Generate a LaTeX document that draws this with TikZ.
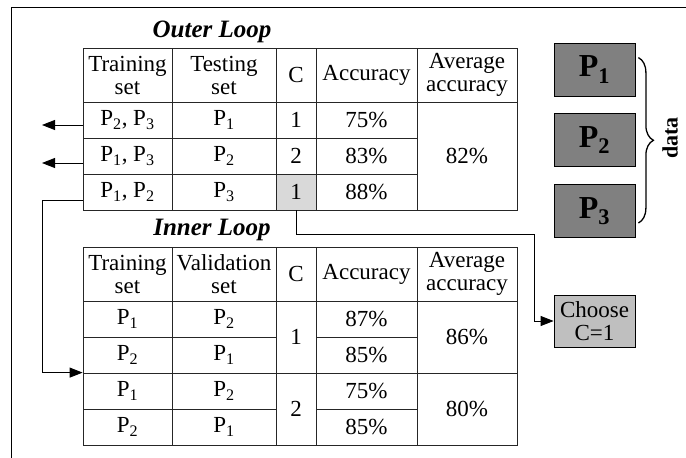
\documentclass[tikz,border=0pt]{standalone}
\usepackage{fontspec}
\setmainfont{Liberation Serif}
\usetikzlibrary{arrows.meta, positioning, decorations.pathreplacing}
\tikzstyle{cell} = [rectangle, draw=black!85, line width=0.8pt, inner sep=0pt, minimum height=36pt, text centered, align=center]
\tikzstyle{head} = [cell, minimum height=54pt]
\tikzstyle{trainw} = [minimum width=89pt]
\tikzstyle{testw} = [minimum width=104pt]
\tikzstyle{cw} = [minimum width=40pt]
\tikzstyle{accw} = [minimum width=101pt]
\tikzstyle{avgw} = [minimum width=100pt]
\tikzstyle{part} = [rectangle, draw=black, line width=0.8pt, fill=black!50, minimum width=81pt, minimum height=53pt, font=\fontsize{32}{34}\selectfont\bfseries]
\tikzstyle{choice} = [rectangle, draw=black, line width=0.8pt, fill=black!25, minimum width=81pt, minimum height=52pt, inner sep=0pt, align=center]
\tikzstyle{title} = [font=\fontsize{25}{27}\selectfont\bfseries\itshape]
\tikzstyle{line} = [draw, line width=0.9pt, -{Triangle[length=13pt, width=10pt]}]

\begin{document}
\begin{tikzpicture}[x=1pt, y=-1pt, font=\fontsize{23}{23}\selectfont]
\useasboundingbox (0,0) rectangle (686,458);

% Frame
\draw [line width=0.8pt] (11,458) -- (11,7) -- (686,7);

% Outer loop
\node (outer) [title] at (212,32) {Outer Loop};
\node (otrain) [head, trainw] at (127.5,75) {Training\\set};
\node (otest) [head, testw] at (224,75) {Testing\\set};
\node (oc) [head, cw] at (296,75) {C};
\node (oacc) [head, accw] at (366.5,75) {Accuracy};
\node (oavg) [head, avgw] at (467,75) {Average\\accuracy};

\node (o1train) [cell, trainw] at (127.5,120) {P\textsubscript{2}, P\textsubscript{3}};
\node (o1test) [cell, testw] at (224,120) {P\textsubscript{1}};
\node (o1c) [cell, cw] at (296,120) {1};
\node (o1acc) [cell, accw] at (366.5,120) {75\%};

\node (o2train) [cell, trainw] at (127.5,156) {P\textsubscript{1}, P\textsubscript{3}};
\node (o2test) [cell, testw] at (224,156) {P\textsubscript{2}};
\node (o2c) [cell, cw] at (296,156) {2};
\node (o2acc) [cell, accw] at (366.5,156) {83\%};

\node (o3train) [cell, trainw] at (127.5,192) {P\textsubscript{1}, P\textsubscript{2}};
\node (o3test) [cell, testw] at (224,192) {P\textsubscript{3}};
\node (o3c) [cell, cw, fill=black!15] at (296,192) {1};
\node (o3acc) [cell, accw] at (366.5,192) {88\%};

\node (oavgval) [cell, avgw, minimum height=108pt] at (467,156) {82\%};

% Inner loop
\node (inner) [title] at (212,230) {Inner Loop};
\node (itrain) [head, trainw] at (127.5,274) {Training\\set};
\node (ival) [head, testw] at (224,274) {Validation\\set};
\node (ic) [head, cw] at (296,274) {C};
\node (iacc) [head, accw] at (366.5,274) {Accuracy};
\node (iavg) [head, avgw] at (467,274) {Average\\accuracy};

\node (i1train) [cell, trainw] at (127.5,319) {P\textsubscript{1}};
\node (i1val) [cell, testw] at (224,319) {P\textsubscript{2}};
\node (i1acc) [cell, accw] at (366.5,319) {87\%};
\node (i2train) [cell, trainw] at (127.5,355) {P\textsubscript{2}};
\node (i2val) [cell, testw] at (224,355) {P\textsubscript{1}};
\node (i2acc) [cell, accw] at (366.5,355) {85\%};
\node (i3train) [cell, trainw] at (127.5,391) {P\textsubscript{1}};
\node (i3val) [cell, testw] at (224,391) {P\textsubscript{2}};
\node (i3acc) [cell, accw] at (366.5,391) {75\%};
\node (i4train) [cell, trainw] at (127.5,427) {P\textsubscript{2}};
\node (i4val) [cell, testw] at (224,427) {P\textsubscript{1}};
\node (i4acc) [cell, accw] at (366.5,427) {85\%};

\node (ic1) [cell, cw, minimum height=72pt] at (296,337) {1};
\node (ic2) [cell, cw, minimum height=72pt] at (296,409) {2};
\node (iavg1) [cell, avgw, minimum height=72pt] at (467,337) {86\%};
\node (iavg2) [cell, avgw, minimum height=72pt] at (467,409) {80\%};

% Data parts
\node (p1) [part] at (594.5,69.5) {P\textsubscript{1}};
\node (p2) [part, below=17pt of p1] {P\textsubscript{2}};
\node (p3) [part, below=17pt of p2] {P\textsubscript{3}};
\draw [decorate, decoration={brace, amplitude=15pt}, line width=1.3pt]
  ([xshift=3pt, yshift=-15pt]p1.north east) -- ([xshift=3pt, yshift=15pt]p3.south east);
\node (data) [rotate=90, inner sep=1pt, font=\fontsize{22}{24}\selectfont\bfseries] at (670,138) {data};

\node (choose) [choice] at (594.5,321) {Choose\\C=1};

% Connections
\coordinate (back1) at (42,125);
\coordinate (back2) at (42,163);
\coordinate (turn) at (42,200);
\coordinate (bend) at (534,234);
\draw [line] (o1train.west |- back1) -- (back1);
\draw [line] (o2train.west |- back2) -- (back2);
\draw [line] (o3train.west |- turn) -- (turn) |- (i3train.north west);
\draw [line] (o3c.south) |- (bend) |- (choose.west);

\end{tikzpicture}
\end{document}
